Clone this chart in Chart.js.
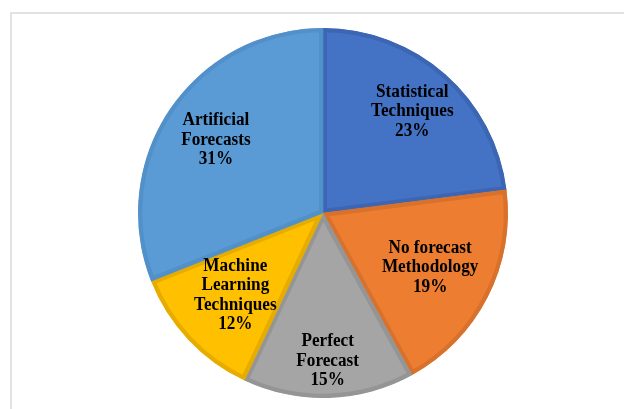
<!DOCTYPE html>
<html>
<head>
<meta charset="utf-8">
<script src="https://cdn.jsdelivr.net/npm/chart.js@4/dist/chart.umd.min.js"></script>
<style>
  html, body { margin: 0; padding: 0; background: #ffffff; overflow: hidden; }
  #wrap { position: relative; width: 624px; height: 409px; }
  #frame { position: absolute; left: 10px; top: 12px; width: 640px; height: 420px;
           border-left: 2px solid #e2e2e2; border-top: 2px solid #e2e2e2; box-sizing: border-box; }
  canvas { position: absolute; left: 0; top: 0; }
</style>
</head>
<body>
<div id="wrap">
  <div id="frame"></div>
  <canvas id="c" width="624" height="409"></canvas>
</div>
<script>
// Data (clockwise from 12 o'clock)
const categories = [
  ['Statistical', 'Techniques'],
  ['No forecast', 'Methodology'],
  ['Perfect', 'Forecast'],
  ['Machine', 'Learning', 'Techniques'],
  ['Artificial', 'Forecasts']
];
const shares = [23, 19, 15, 12, 31];

// Styles
const fillColors   = ['#4472C4', '#ED7D31', '#A5A5A5', '#FFC000', '#5B9BD5'];
const borderColors = ['#3C66B3', '#D8712C', '#959595', '#E6AD00', '#5290C9'];
const labelDistance = [0.73, 0.65, 0.80, 0.65, 0.70];

const sliceLabels = {
  id: 'sliceLabels',
  afterDatasetsDraw(chart) {
    const ctx = chart.ctx;
    const meta = chart.getDatasetMeta(0);
    const sx = 0.93;
    ctx.save();
    ctx.font = 'bold 18.5px "Liberation Serif", "Times New Roman", serif';
    ctx.fillStyle = '#000000';
    ctx.textAlign = 'center';
    ctx.textBaseline = 'middle';
    const lh = 19.5;
    meta.data.forEach((arc, i) => {
      const p = arc.getProps(['x', 'y', 'startAngle', 'endAngle', 'outerRadius'], true);
      const mid = (p.startAngle + p.endAngle) / 2;
      const r = p.outerRadius * labelDistance[i];
      const cx = p.x + Math.cos(mid) * r;
      const cy = p.y + Math.sin(mid) * r;
      const lines = categories[i].concat([shares[i] + '%']);
      const top = cy - (lines.length - 1) * lh / 2;
      lines.forEach((t, k) => {
        ctx.save();
        ctx.translate(cx, top + k * lh);
        ctx.scale(sx, 1);
        ctx.fillText(t, 0, 0);
        ctx.restore();
      });
    });
    ctx.restore();
  }
};

new Chart(document.getElementById('c'), {
  type: 'pie',
  data: {
    labels: categories.map(c => c.join(' ')),
    datasets: [{
      data: shares,
      backgroundColor: fillColors,
      borderColor: borderColors,
      borderWidth: 4,
      borderAlign: 'inner'
    }]
  },
  options: {
    responsive: false,
    animation: false,
    devicePixelRatio: 1,
    layout: { padding: { top: 28, bottom: 11, left: 22, right: 0 } },
    plugins: {
      legend: { display: false },
      tooltip: { enabled: false }
    }
  },
  plugins: [sliceLabels]
});
</script>
</body>
</html>
